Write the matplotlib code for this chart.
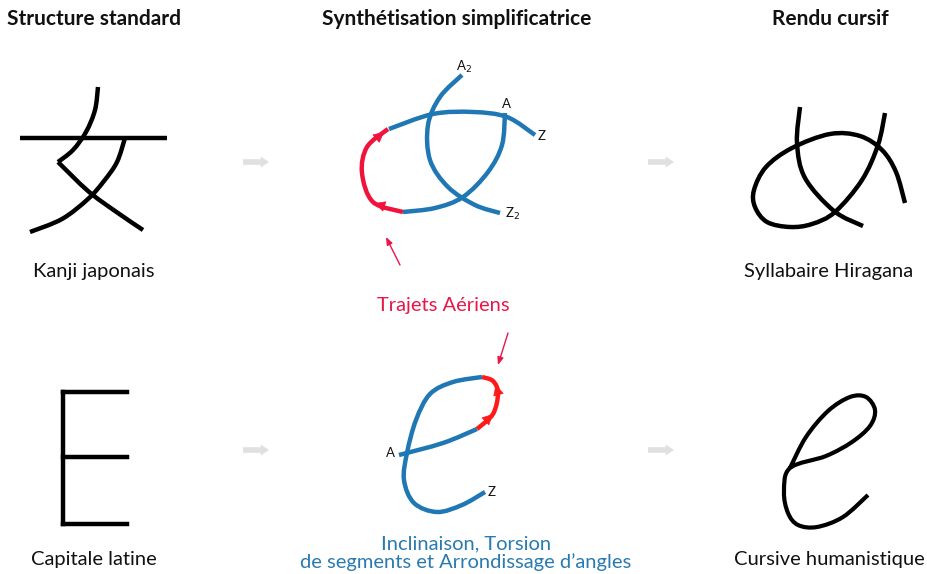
import matplotlib
matplotlib.use("Agg")
import matplotlib.pyplot as plt
import numpy as np
from matplotlib.path import Path
from matplotlib.patches import PathPatch

W, H = 927, 574
FONT = ["Lato", "DejaVu Sans"]

# ---- text content ----
column_titles = ["Structure standard", "Synthétisation simplificatrice", "Rendu cursif"]
column_title_x = [94, 457, 830]
row_labels_left = ["Kanji japonais", "Capitale latine"]
row_labels_right = ["Syllabaire Hiragana", "Cursive humanistique"]
label_air = "Trajets Aériens"
label_incl = "Inclinaison, Torsion\nde segments et Arrondissage d\u2019angles"

# ---- stroke point lists (pixel coordinates) ----
kanji_h = [(20, 138), (167, 138)]
kanji_s1a = [(98, 87), (95, 110), (86, 132), (73, 150), (58, 162)]
kanji_s1b = [(58, 162), (88, 191), (115, 211), (143, 230)]
kanji_s2 = [(125, 138), (117, 162), (104, 181), (88, 199), (62, 219), (30, 232)]

hira_a = [(800, 107), (797, 143), (805, 178), (834, 211), (863, 226)]
hira_b = [(885, 113), (878, 145), (862, 180), (835, 212), (812, 224), (790, 227),
          (767, 222), (755, 207), (754, 190), (766, 167), (792, 148), (830, 134),
          (860, 136), (882, 150), (896, 172), (905, 203)]

syn_a2z2 = [(462, 75), (440, 97), (428, 125), (430, 160), (448, 187), (475, 205), (500, 213)]
syn_loop_blue1 = [(505, 113), (502, 145), (488, 172), (463, 197), (435, 208), (403, 212)]
syn_loop_red = [(403, 212), (373, 202), (362, 173), (367, 147), (388, 129)]
syn_loop_blue2 = [(389, 129), (433, 114), (473, 112), (507, 117), (535, 135)]

e_blue1 = [(399, 455), (443, 443), (477, 429)]
e_red = [(477, 429), (493, 414), (498, 393), (493, 381), (482, 377)]
e_blue2 = [(482, 377), (453, 382), (430, 394), (416, 420), (407, 453), (404, 480),
           (414, 503), (437, 512), (462, 505), (485, 492)]

cursive_e = [(790, 468), (806, 437), (828, 411), (850, 397), (866, 397), (875, 410),
             (870, 426), (852, 442), (826, 456), (790, 468), (784, 492), (788, 513),
             (798, 525), (817, 527), (843, 517), (868, 495)]

E_vert = [(63, 392), (63, 524)]
E_bars = [[(63, 392), (127, 392)], [(63, 457), (127, 457)], [(63, 524), (127, 524)]]

gray_arrows = [((243, 162), (269, 162)), ((648, 162), (674, 162)),
               ((243, 450), (269, 450)), ((648, 450), (674, 450))]

BLUE = "#1f77b4"
RED1 = "#f0143c"
RED2 = "#ff1a1a"
BLACK = "#000000"


def smooth_path(pts):
    pts = np.asarray(pts, float)
    if len(pts) == 2:
        return Path(pts, [Path.MOVETO, Path.LINETO])
    P = np.vstack([pts[0], pts, pts[-1]])
    verts = [tuple(pts[0])]
    codes = [Path.MOVETO]
    for i in range(1, len(P) - 2):
        p0, p1, p2, p3 = P[i - 1], P[i], P[i + 1], P[i + 2]
        c1 = p1 + (p2 - p0) / 6.0
        c2 = p2 - (p3 - p1) / 6.0
        verts += [tuple(c1), tuple(c2), tuple(p2)]
        codes += [Path.CURVE4] * 3
    return Path(verts, codes)


def stroke(ax, pts, color, lw=3.0, cap="butt"):
    patch = PathPatch(smooth_path(pts), facecolor="none", edgecolor=color, lw=lw,
                      capstyle=cap, joinstyle="round")
    ax.add_patch(patch)


def mid_arrow(ax, pts, frac, color):
    path = smooth_path(pts)
    poly = path.to_polygons(closed_only=False)[0]
    seg = np.diff(poly, axis=0)
    d = np.concatenate([[0], np.cumsum(np.hypot(seg[:, 0], seg[:, 1]))])
    t = frac * d[-1]
    i = np.searchsorted(d, t)
    a = poly[max(i - 2, 0)]
    b = poly[min(i + 1, len(poly) - 1)]
    ax.annotate("", xy=b, xytext=a,
                arrowprops=dict(arrowstyle="-|>,head_length=0.7,head_width=0.35",
                                color=color, lw=0.5, shrinkA=0, shrinkB=0))


fig = plt.figure(figsize=(W / 100, H / 100), dpi=100)
ax = fig.add_axes([0, 0, 1, 1])
ax.set_xlim(0, W)
ax.set_ylim(H, 0)
ax.axis("off")

# titles
for t, x in zip(column_titles, column_title_x):
    ax.text(x, 19, t, ha="center", va="center", fontsize=15, fontweight="bold",
            family=FONT, color="#111111")

# kanji
stroke(ax, kanji_h, BLACK, 3.2)
stroke(ax, kanji_s1a, BLACK, 3.2)
stroke(ax, kanji_s1b, BLACK, 3.2)
stroke(ax, kanji_s2, BLACK, 3.2)

# E
stroke(ax, E_vert, BLACK, 3.2, cap="projecting")
for b in E_bars:
    stroke(ax, b, BLACK, 3.2, cap="projecting")

# hiragana
stroke(ax, hira_a, BLACK, 3.2)
stroke(ax, hira_b, BLACK, 3.2)

# cursive e
stroke(ax, cursive_e, BLACK, 3.0)

# synthesized top
stroke(ax, syn_a2z2, BLUE, 3.2)
stroke(ax, syn_loop_blue1, BLUE, 3.2)
stroke(ax, syn_loop_red, RED1, 3.2)
stroke(ax, syn_loop_blue2, BLUE, 3.2)
mid_arrow(ax, syn_loop_red, 0.20, RED1)
mid_arrow(ax, syn_loop_red, 0.82, RED1)

# synthesized e
stroke(ax, e_blue1, BLUE, 3.2)
stroke(ax, e_red, RED2, 3.2)
stroke(ax, e_blue2, BLUE, 3.2)
mid_arrow(ax, e_red, 0.25, RED2)
mid_arrow(ax, e_red, 0.68, RED2)

# point labels
lab = dict(fontsize=9.5, family=FONT, ha="center", va="center", color="#111111")
ax.text(464, 67, "A$_2$", **lab)
ax.text(506, 104, "A", **lab)
ax.text(542, 136, "Z", **lab)
ax.text(513, 214, "Z$_2$", **lab)
ax.text(390, 453, "A", **lab)
ax.text(492, 492, "Z", **lab)

# gray arrows
for (x0, y0), (x1, y1) in gray_arrows:
    ax.annotate("", xy=(x1, y1), xytext=(x0, y0),
                arrowprops=dict(arrowstyle="simple,head_length=0.6,head_width=0.8,tail_width=0.4",
                                color="#e0e0e0", lw=0, shrinkA=0, shrinkB=0))

# labels
for t, y in zip(row_labels_left, [271, 559]):
    ax.text(94, y, t, ha="center", va="center", fontsize=14.5, family=FONT, color="#111111")
for t, y in zip(row_labels_right, [271, 559]):
    ax.text(829, y, t, ha="center", va="center", fontsize=14.5, family=FONT, color="#111111")

ax.text(443, 305, label_air, ha="center", va="center", fontsize=14.5, family=FONT, color="#e8174a")
ax.text(466, 553, label_incl, ha="center", va="center", fontsize=14.5, family=FONT,
        color="#2a7ab0", linespacing=1.08)

# pointer arrows from label
for (x0, y0), (x1, y1) in [((400, 265), (386, 237)), ((508, 333), (498, 365))]:
    ax.annotate("", xy=(x1, y1), xytext=(x0, y0),
                arrowprops=dict(arrowstyle="-|>,head_length=0.45,head_width=0.18",
                                color="#e8174a", lw=1.0, shrinkA=0, shrinkB=0))

fig.savefig("out.png", dpi=100)
